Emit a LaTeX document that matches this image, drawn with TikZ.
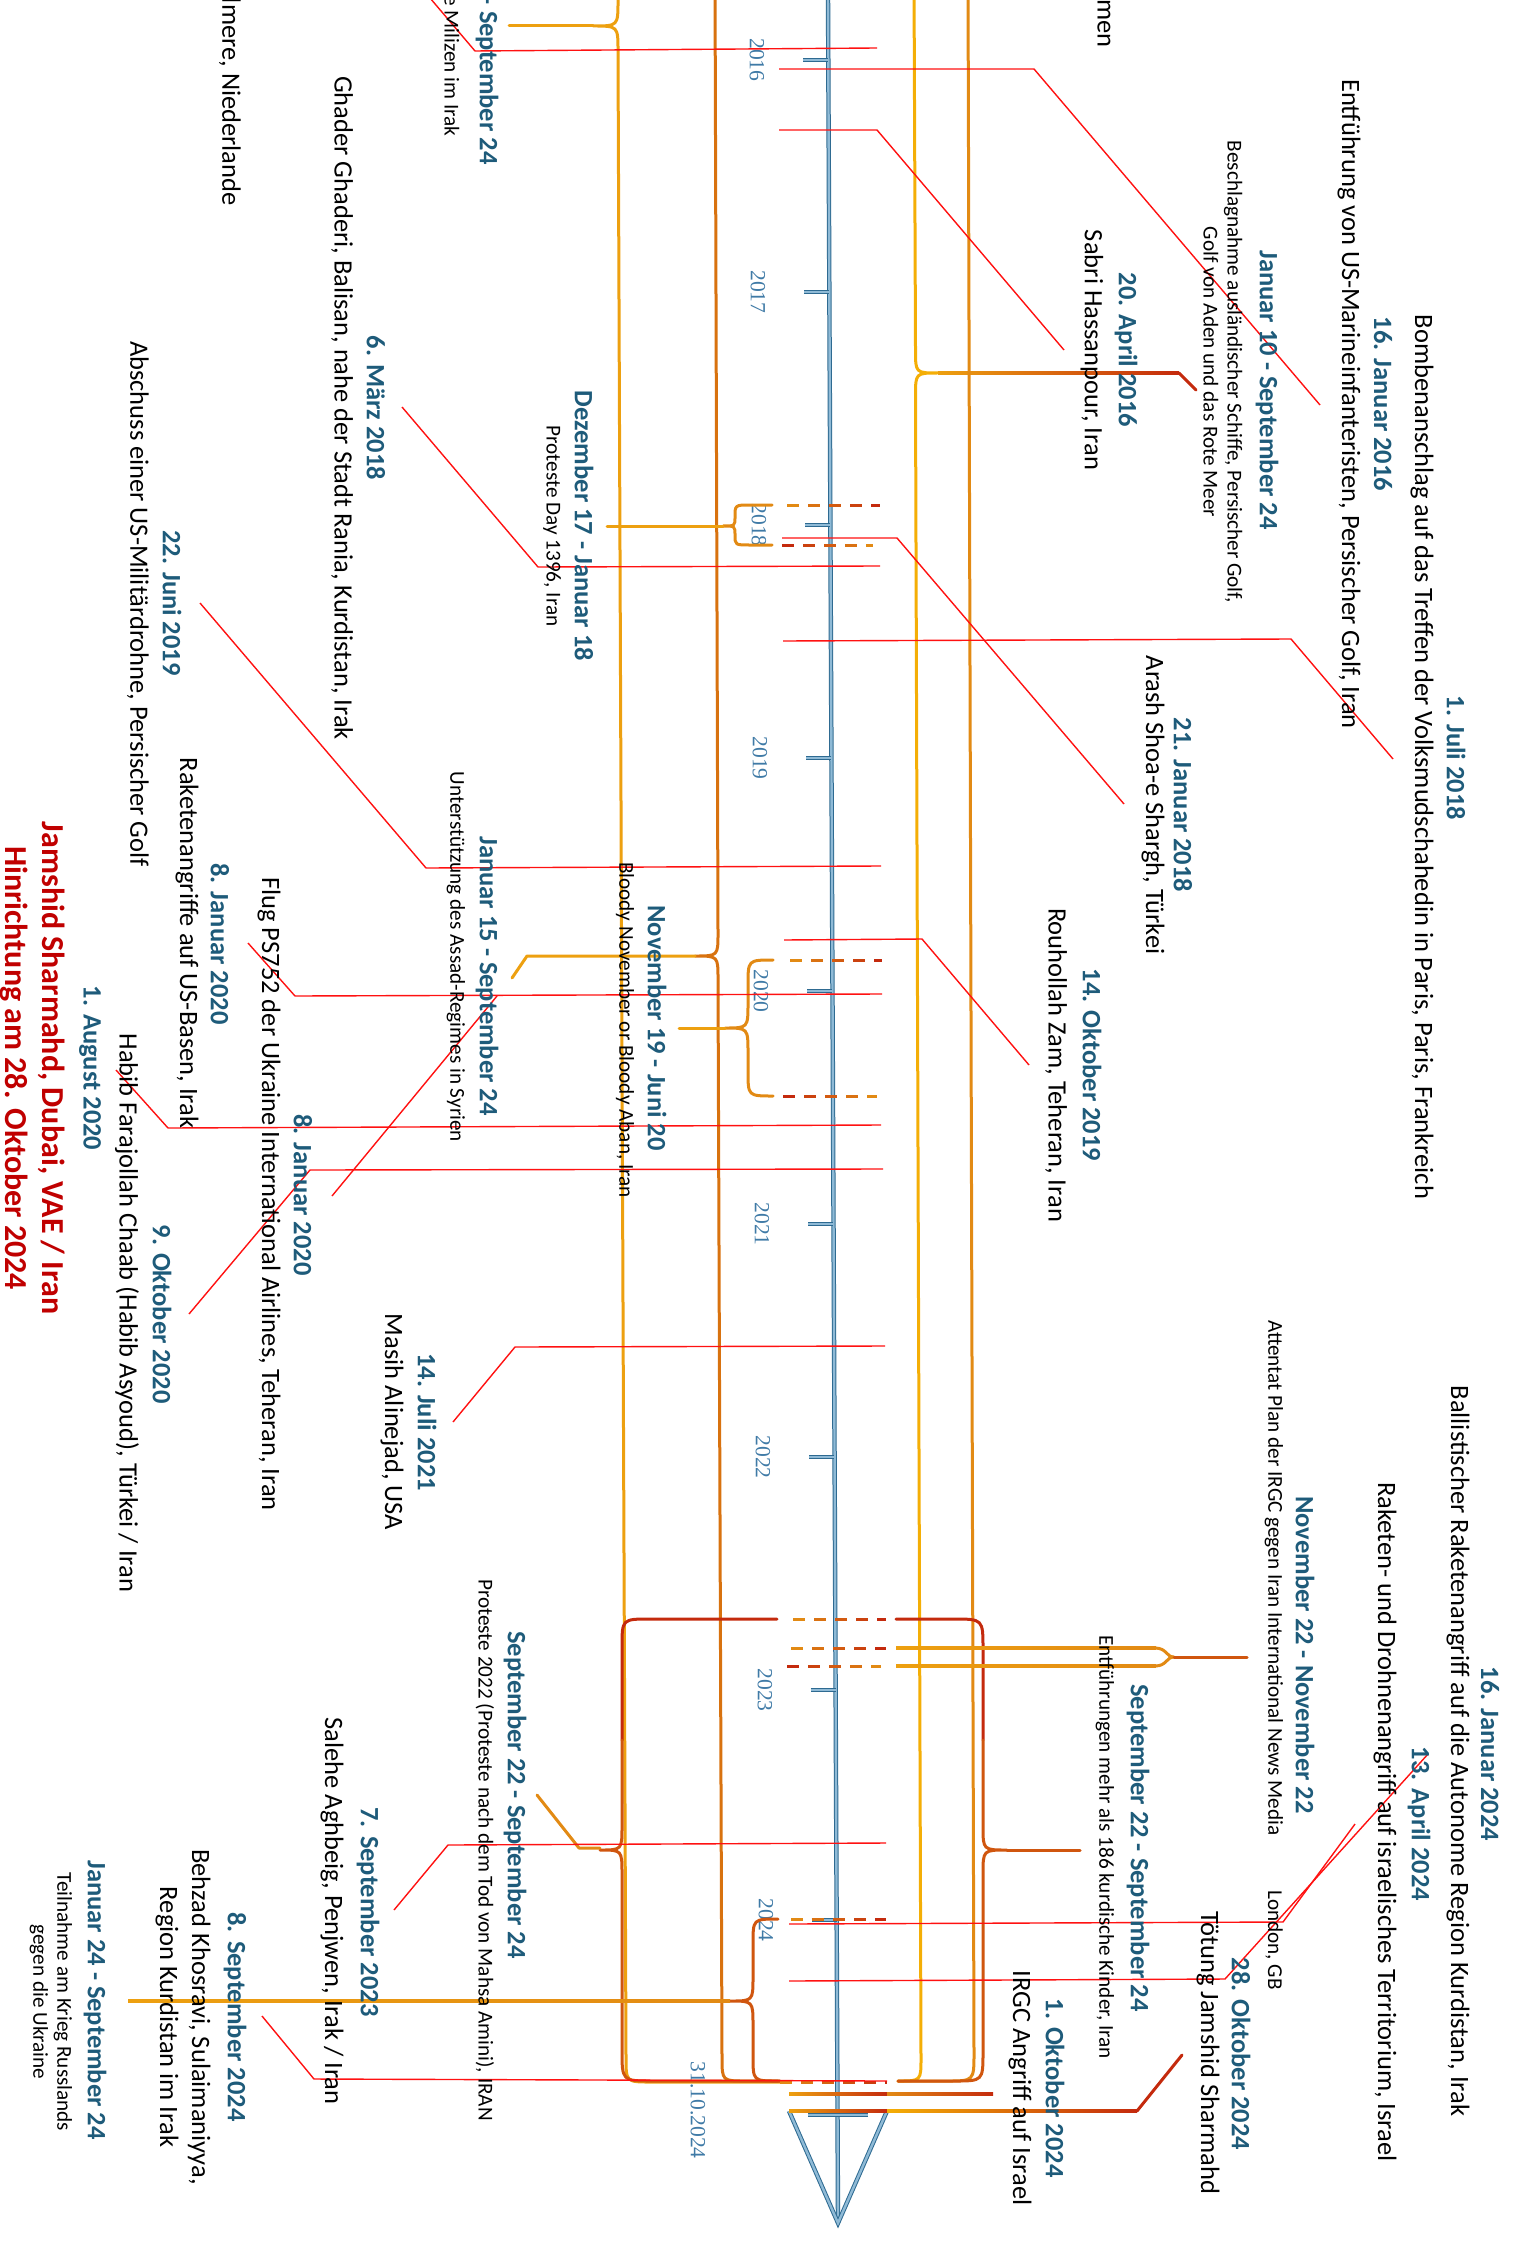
\documentclass[tikz,border=0pt]{standalone}
\usepackage{fontspec}
\setmainfont{Carlito}
\newfontfamily\yearfont{Liberation Serif}
\definecolor{axdark}{HTML}{2E6A91}
\definecolor{axlight}{HTML}{8FBAD6}
\definecolor{datecol}{HTML}{1E5B7A}
\definecolor{yearcol}{HTML}{3F7AA6}
\definecolor{leadred}{HTML}{FF1111}
\definecolor{bigred}{HTML}{C00000}
\definecolor{cGold}{HTML}{EDA010}
\definecolor{cYellow}{HTML}{F4AE06}
\definecolor{cOrange}{HTML}{E28A14}
\definecolor{cDark}{HTML}{D8720F}
\definecolor{cRed}{HTML}{C42A0D}
\definecolor{cRU}{HTML}{D0560F}
\newcommand{\gdash}[5]{%
  \pgfmathtruncatemacro{\gdN}{floor((#2-#1)/21)}%
  \foreach \gdI in {0,...,\gdN}{%
    \pgfmathsetmacro{\gdA}{#1+21*\gdI}%
    \pgfmathsetmacro{\gdB}{min(\gdA+12,#2)}%
    \pgfmathtruncatemacro{\gdP}{100-100*\gdI/max(\gdN,1)}%
    \draw[line width=1.5pt, draw=#4!\gdP!#5] (\gdA,#3) -- (\gdB,#3);
  }%
}
\newcommand{\hgrad}[5]{\shade[left color=#4, right color=#5] (#1,#3-1.5) rectangle (#2,#3+1.5);}
\tikzset{
  stream/.style={line width=1.5pt, line cap=round, line join=round},
  leader/.style={draw=leadred, line width=0.7pt},
  axisline/.style={draw=axdark, double=axlight, line width=0.5pt, double distance=1.2pt},
  dte/.style={rotate=-90, font=\fontsize{13.25}{16}\selectfont\bfseries, text=datecol, inner sep=0pt},
  desc/.style={rotate=-90, font=\fontsize{13.25}{16}\selectfont, inner sep=0pt, align=center},
  small/.style={rotate=-90, font=\fontsize{10.6}{12}\selectfont, inner sep=0pt, align=center},
  yr/.style={rotate=-90, font=\yearfont\fontsize{10.8}{12}\selectfont, text=yearcol, inner sep=0pt},
}
\begin{document}
\begin{tikzpicture}[x=0.5pt,y=-0.5pt]
\useasboundingbox (0,0) rectangle (1518,2246);
\clip (0,0) rectangle (1518,2246);

% ---------- axis ----------
\draw[axisline] (828,-5) -- (838,2223);
\draw[axisline] (789,2111) -- (838,2223) -- (887,2111);
\foreach \yy/\xx in {60/828,292/829,525/830,758/831,991/832,1224/833,1457/834,1690/835.6,1920/836.6}{
  \draw[axisline] (\xx-25,\yy) -- (\xx,\yy);
}
\draw[axisline] (808,2115) -- (868,2115);
\foreach \yy/\xx/\t in {60/757/2016,292/758/2017,525/759/2018,758/760/2019,991/761/2020,1224/762/2021,1457/763/2022,1690/765/2023,1920/766/2024}{
  \node[yr] (y\t) at (\xx,\yy) {\t};
}
\node[yr] (yend) at (698,2110) {31.10.2024};

% ---------- long streams ----------
% stream A
\draw[stream, draw=cGold] (618,-20) -- (618,1) .. controls (618,26) .. (593,26) .. controls (618,26) .. (618,51) -- (626,2057) .. controls (626,2082) .. (651,2082) -- (780,2082);
\draw[stream, draw=cGold] (509,26) -- (593,26);
% stream B
\draw[stream, draw=cDark] (715,-20) -- (718,933) .. controls (718,956) .. (695,956) .. controls (718,956) .. (718,979) -- (722,2057) .. controls (722,2081) .. (746,2081) -- (780,2081);
\draw[stream, draw=cGold] (512,978) -- (527,956) -- (695,956);
% stream C
\draw[stream, draw=cYellow] (914,-20) -- (915.5,350) .. controls (915.5,373) .. (938,373) .. controls (915.5,373) .. (915.5,396) -- (921,2058) .. controls (921,2081) .. (898,2081);
\hgrad{938}{1179}{373}{cGold}{cRed}
\draw[stream, draw=cRed] (1179,373) -- (1196,390);
% stream D
\draw[stream, draw=cOrange] (968,-20) -- (974,2053) .. controls (974,2081) .. (946,2081) -- (898,2081);

% red U (Sep 22 - Sep 24)
\draw[stream, draw=cRed] (777,1619) -- (650,1619) .. controls (622,1619) .. (622,1647) -- (622,1740);
\draw[stream, draw=cRU] (622,1740) -- (622,1826) .. controls (622,1850) .. (600,1850) .. controls (622,1850) .. (622,1874) -- (622,2050) .. controls (622,2081) .. (653,2081) -- (780,2081);
\draw[stream, draw=cOrange] (537,1795) -- (579,1848) -- (600,1848);
\draw[stream, draw=cRed] (896,1619) -- (953,1619) .. controls (983,1619) .. (983,1649) -- (983,1740);
\draw[stream, draw=cRU] (983,1740) -- (983,1826) .. controls (983,1850) .. (1007,1850) .. controls (983,1850) .. (983,1874) -- (983,2052) .. controls (983,2081) .. (954,2081) -- (898,2081);
\draw[stream, draw=cRU] (1007,1850) -- (1080,1850);
\gdash{793}{886}{1619}{cOrange}{cRed}

% Nov 22 - Nov 22
\hgrad{896}{1156}{1648}{cGold}{cOrange}
\hgrad{896}{1156}{1666}{cGold}{cOrange}
\draw[stream, draw=cOrange] (1155,1648) .. controls (1167,1648) and (1166,1657) .. (1174,1657) .. controls (1166,1657) and (1167,1666) .. (1155,1666);
\draw[stream, draw=cRU] (1174,1657) -- (1247,1657);
\gdash{791}{886}{1648}{cOrange}{cRed}
\gdash{787}{881}{1666}{cRed}{cOrange}

% Jan 24 - Sep 24
\draw[stream, draw=cRU] (778,1919) .. controls (753,1919) .. (753,1944) -- (753,1977) .. controls (753,2001) .. (730,2001) .. controls (753,2001) .. (753,2025) -- (753,2056) .. controls (753,2081) .. (778,2081);
\hgrad{128}{730}{2001}{cGold}{cOrange}
\gdash{791}{886}{1919}{cOrange}{cRed}

% Nov 19 - Juni 20
\draw[stream, draw=cOrange] (773,960) .. controls (748,960) .. (748,985) -- (748,1003) .. controls (748,1028) .. (725,1028) .. controls (748,1028) .. (748,1053) -- (748,1071) .. controls (748,1096) .. (773,1096);
\draw[stream, draw=cGold] (679,1028) -- (725,1028);
\gdash{790}{882}{960}{cOrange}{cRed}
\gdash{783}{877}{1096}{cRed}{cOrange}

% Dez 17 - Jan 18
\draw[stream, draw=cOrange] (772,505) -- (750,505) .. controls (735,505) .. (735,517) .. controls (735,526) .. (723,526) .. controls (735,526) .. (735,535) .. controls (735,545) .. (750,545) -- (772,545);
\draw[stream, draw=cGold] (607,526) -- (723,526);
\gdash{787}{880}{505}{cOrange}{cRed}
\gdash{782}{873}{545}{cRed}{cOrange}

% bottom convergence + October lines
\gdash{780}{887}{2082}{cOrange}{cRed}
\hgrad{789}{887}{2094}{cGold}{cRed}
\hgrad{887}{993}{2094}{cOrange}{cRed}
\hgrad{789}{887}{2111}{cGold}{cRed}
\hgrad{887}{1137}{2111}{cYellow}{cRed}
\draw[stream, draw=cRed] (1137,2111) -- (1182,2055);

% ---------- leader lines ----------
\draw[leader] (430,-2) -- (475,51) -- (877,48);
\draw[leader] (402,407) -- (538,567) -- (880,566);
\draw[leader] (200,603) -- (426,868) -- (881,866);
\draw[leader] (248,943) -- (295,996) -- (882,994);
\draw[leader] (332,1196) -- (497,996);
\draw[leader] (116,1070) -- (168,1128) -- (881,1125);
\draw[leader] (189,1314) -- (310,1170) -- (883,1169);
\draw[leader] (453,1422) -- (515,1347) -- (885,1346);
\draw[leader] (394,1910) -- (448,1845) -- (886,1843);
\draw[leader] (262,2016) -- (314,2079) -- (887,2081);
\draw[leader] (779,69) -- (1034,69) -- (1320,405);
\draw[leader] (779,130) -- (877,130) -- (1064,350);
\draw[leader] (782,538) -- (897,538) -- (1124,804);
\draw[leader] (783,641) -- (1291,639) -- (1393,759);
\draw[leader] (784,940) -- (922,939) -- (1029,1065);
\draw[leader] (789,1924) -- (1283,1922) -- (1355,1824);
\draw[leader] (789,1981) -- (1225,1979) -- (1428,1754);

% ---------- texts right ----------
\node[dte] (t1) at (1456,758) {1. Juli 2018};
\node[desc] (d1) at (1422,757) {Bombenanschlag auf das Treffen der Volksmudschahedin in Paris, Paris, Frankreich};
\node[dte] (t2) at (1383,404) {16. Januar 2016};
\node[desc] (d2) at (1349,404) {Entführung von US-Marineinfanteristen, Persischer Golf, Iran};
\node[dte] (t3) at (1267,390) {Januar 10 - September 24};
\node[small] (d3) at (1223,372) {Beschlagnahme ausländischer Schiffe, Persischer Golf,\\Golf von Aden und das Rote Meer};
\node[dte] (t4) at (1126,350) {20. April 2016};
\node[desc] (d4) at (1092,350) {Sabri Hassanpour, Iran};
\node[dte] (t5) at (1183,805) {21. Januar 2018};
\node[desc] (d5) at (1153,805) {Arash Shoa-e Shargh, Türkei};
\node[dte] (t6) at (1092,1065) {14. Oktober 2019};
\node[desc] (d6) at (1056,1065) {Rouhollah Zam, Teheran, Iran};
\node[small] (d7) at (1274,1578) {Attentat Plan der IRGC gegen Iran International News Media};
\node[small] (d7b) at (1274,1940) {London, GB};
\node[dte] (t7) at (1305,1655) {November 22 - November 22};
\node[dte] (t8) at (1490,1754) {16. Januar 2024};
\node[desc] (d8) at (1458,1751) {Ballistischer Raketenangriff auf die Autonome Region Kurdistan, Irak};
\node[dte] (t9) at (1419,1824) {13. April 2024};
\node[desc] (d9) at (1385,1822) {Raketen- und Drohnenangriff auf israelisches Territorium, Israel};
\node[dte] (t10) at (1241,2054) {28. Oktober 2024};
\node[desc] (d10) at (1208,2053) {Tötung Jamshid Sharmahd};
\node[dte] (t11) at (1138,1848) {September 22 - September 24};
\node[small] (d11) at (1105,1847) {Entführungen mehr als 186 kurdische Kinder, Iran};
\node[dte] (t12) at (1055,2088) {1. Oktober 2024};
\node[desc] (d12) at (1020,2088) {IRGC Angriff auf Israel};
\node[desc, anchor=east] (d13) at (1104,48) {emen};

% ---------- texts left ----------
\node[dte, anchor=east] (t14) at (487,165) {- September 24};
\node[small, anchor=east] (d14) at (452,137) {e Milizen im Irak};
\node[desc, anchor=east] (d15) at (230,206) {lmere, Niederlande};
\node[dte] (t16) at (376,408) {6. März 2018};
\node[desc] (d16) at (342,408) {Ghader Ghaderi, Balisan, nahe der Stadt Rania, Kurdistan, Irak};
\node[dte] (t17) at (584,526) {Dezember 17 - Januar 18};
\node[small] (d17) at (552,526) {Proteste Day 1396, Iran};
\node[dte] (t18) at (172,603) {22. Juni 2019};
\node[desc] (d18) at (138,604) {Abschuss einer US-Militärdrohne, Persischer Golf};
\node[dte] (t19) at (487,976) {Januar 15 - September 24};
\node[small] (d19) at (456,957) {Unterstützung des Assad-Regimes in Syrien};
\node[dte] (t20) at (657,1028) {November 19 - Juni 20};
\node[small] (d20) at (625,1030) {Bloody November or Bloody Aban, Iran};
\node[dte] (t21) at (220,944) {8. Januar 2020};
\node[desc] (d21) at (187,943) {Raketenangriffe auf US-Basen, Irak};
\node[dte] (t22) at (303,1195) {8. Januar 2020};
\node[desc] (d22) at (269,1194) {Flug PS752 der Ukraine International Airlines, Teheran, Iran};
\node[dte] (t23) at (90,1068) {1. August 2020};
\node[desc] (d23) at (127,1313) {Habib Farajollah Chaab (Habib Asyoud), Türkei / Iran};
\node[dte] (t24) at (162,1314) {9. Oktober 2020};
\node[dte] (t25) at (427,1422) {14. Juli 2021};
\node[desc] (d25) at (392,1422) {Masih Alinejad, USA};
\node[rotate=-90, inner sep=0pt, align=center, text=bigred, font=\fontsize{16}{18.5}\selectfont\bfseries] (big) at (33,1068) {Jamshid Sharmahd, Dubai, VAE / Iran\\Hinrichtung am 28. Oktober 2024};
\node[dte] (t26) at (515,1795) {September 22 - September 24};
\node[small] (d26) at (485,1850) {Proteste 2022 (Proteste nach dem Tod von Mahsa Amini), IRAN};
\node[dte] (t27) at (368,1912) {7. September 2023};
\node[desc] (d27) at (332,1911) {Salehe Aghbeig, Penjwen, Irak / Iran};
\node[dte] (t28) at (235,2017) {8. September 2024};
\node[desc, font=\fontsize{13.25}{16}\selectfont] (d28) at (183,2017) {Behzad Khosravi, Sulaimaniyya,\\Region Kurdistan im Irak};
\node[dte] (t29) at (95,2000) {Januar 24 - September 24};
\node[small] (d29) at (51,2002) {Teilnahme am Krieg Russlands\\gegen die Ukraine};
\end{tikzpicture}
\end{document}
